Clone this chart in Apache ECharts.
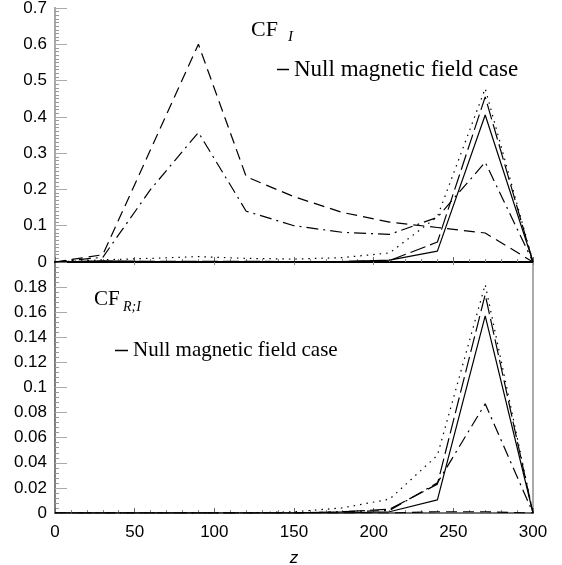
<!DOCTYPE html>
<html>
<head>
<meta charset="utf-8">
<script src="https://cdn.jsdelivr.net/npm/echarts@6/dist/echarts.min.js"></script>
<style>html,body{margin:0;padding:0;background:#fff}#c{width:562px;height:565px}</style>
</head>
<body>
<div id="c"></div>
<script>
// ---- data ----
var zValues = [0, 30, 60, 90, 120, 150, 180, 210, 240, 270, 300];

// upper panel: CF_I
var cfSolid    = [0, 0.003, 0.001, 0.001, 0.001, 0, 0.001, 0.005, 0.03, 0.405, 0];
var cfDashed   = [0, 0.02, 0.31, 0.60, 0.235, 0.18, 0.137, 0.11, 0.095, 0.08, 0];
var cfDashDot  = [0, 0.013, 0.2, 0.357, 0.14, 0.10, 0.082, 0.076, 0.123, 0.275, 0];
var cfDotted   = [0, 0.006, 0.01, 0.015, 0.01, 0.008, 0.012, 0.025, 0.125, 0.478, 0];
var cfLongDash = [0, 0.002, 0.002, 0.002, 0.002, 0.001, 0.001, 0.004, 0.055, 0.455, 0];

// lower panel: CF_R;I
var crSolid    = [0, 0, 0, 0, 0, 0, 0, 0.001, 0.0105, 0.157, 0];
var crDashed   = [0, 0, 0, 0, 0, 0, 0, 0, 0.001, 0.001, 0];
var crDashDot  = [0, 0, 0, 0, 0, 0, 0.001, 0.002, 0.024, 0.087, 0];
var crDotted   = [0, 0, 0, 0, 0, 0.001, 0.004, 0.011, 0.046, 0.182, 0];
var crLongDash = [0, 0, 0, 0, 0, 0, 0.001, 0.003, 0.023, 0.174, 0];

var legendName = 'Null magnetic field case';

function pairs(ys) { return zValues.map(function (z, i) { return [z, ys[i]]; }); }

var styles = {
  solid: 'solid',
  dashed: [11, 6],
  dashDot: [12, 5, 2, 5],
  dotted: [1.5, 5],
  longDash: [16, 5]
};

function line(name, data, dash, xi, yi) {
  return {
    name: name, type: 'line', xAxisIndex: xi, yAxisIndex: yi,
    data: pairs(data), symbol: 'none', silent: true, animation: false,
    lineStyle: { color: '#000', width: 1.2, type: dash },
    itemStyle: { color: '#000' }, z: 3
  };
}

var serif = 'Liberation Serif, Times New Roman, serif';
var sans = 'Liberation Sans, Arial, sans-serif';

function yFmt(v) { return String(+v.toFixed(3)); }

var chart = echarts.init(document.getElementById('c'), null, { renderer: 'canvas' });
var option = {
  backgroundColor: '#fff',
  animation: false,
  grid: [
    { left: 55, right: 29, top: 8, height: 254, outerBoundsMode: 'none', containLabel: false },
    { left: 55, right: 29, top: 262, height: 251, outerBoundsMode: 'none', containLabel: false }
  ],
  xAxis: [
    { gridIndex: 0, type: 'value', min: 0, max: 300, interval: 50, position: 'bottom',
      axisLine: { lineStyle: { color: '#000', width: 2 } },
      axisTick: { inside: true, length: 5, lineStyle: { color: '#666' } },
      minorTick: { show: true, splitNumber: 5, length: 3, lineStyle: { color: '#888' } },
      axisLabel: { show: false }, splitLine: { show: false } },
    { gridIndex: 0, type: 'value', min: 0, max: 300, interval: 50, position: 'top',
      axisLine: { lineStyle: { color: '#000', width: 1 } },
      axisTick: { inside: true, length: 3, lineStyle: { color: '#888' } },
      axisLabel: { show: false }, splitLine: { show: false } },
    { gridIndex: 1, type: 'value', min: 0, max: 300, interval: 50, position: 'bottom',
      axisLine: { lineStyle: { color: '#444', width: 1.5 } },
      axisTick: { inside: true, length: 5, lineStyle: { color: '#666' } },
      minorTick: { show: true, splitNumber: 5, length: 3, lineStyle: { color: '#888' } },
      axisLabel: { color: '#000', fontFamily: sans, fontSize: 17, margin: 11 },
      name: 'z', nameLocation: 'middle', nameGap: 37,
      nameTextStyle: { color: '#000', fontFamily: sans, fontStyle: 'italic', fontSize: 17 },
      splitLine: { show: false } }
  ],
  yAxis: [
    { gridIndex: 0, type: 'value', min: 0, max: 0.7, interval: 0.1, position: 'left',
      axisLine: { show: true, lineStyle: { color: '#555', width: 1.5 } },
      axisTick: { show: true, inside: true, length: 12, lineStyle: { color: '#aaa' } },
      minorTick: { show: true, splitNumber: 10, length: 4, lineStyle: { color: '#999' } },
      axisLabel: { color: '#000', fontFamily: sans, fontSize: 17, margin: 8, formatter: yFmt },
      splitLine: { show: false } },
    { gridIndex: 0, type: 'value', min: 0, max: 0.7, interval: 0.1, position: 'right',
      axisLine: { show: true, lineStyle: { color: '#aaa', width: 2 } },
      axisTick: { show: false }, axisLabel: { show: false }, splitLine: { show: false } },
    { gridIndex: 1, type: 'value', min: 0, max: 0.2, interval: 0.02, position: 'left',
      axisLine: { show: true, lineStyle: { color: '#555', width: 1.5 } },
      axisTick: { show: true, inside: true, length: 12, lineStyle: { color: '#aaa' } },
      minorTick: { show: true, splitNumber: 5, length: 4, lineStyle: { color: '#999' } },
      axisLabel: { color: '#000', fontFamily: sans, fontSize: 17, margin: 8,
        formatter: function (v) { return v >= 0.199 ? '' : yFmt(v); } },
      splitLine: { show: false } },
    { gridIndex: 1, type: 'value', min: 0, max: 0.2, interval: 0.02, position: 'right',
      axisLine: { show: true, lineStyle: { color: '#aaa', width: 2 } },
      axisTick: { show: false }, axisLabel: { show: false }, splitLine: { show: false } }
  ],
  legend: [
    { data: [legendName], left: 272, top: 53, icon: 'rect', itemWidth: 12, itemHeight: 1.5,
      selectedMode: false, textStyle: { fontFamily: serif, fontSize: 23, color: '#000' } },
    { data: [legendName], left: 110, top: 335, icon: 'rect', itemWidth: 13, itemHeight: 1.5,
      selectedMode: false, textStyle: { fontFamily: serif, fontSize: 21, color: '#000' } }
  ],
  graphic: [
    { type: 'text', left: 251, top: 19, style: { text: 'CF', font: '22px ' + serif, fill: '#000' } },
    { type: 'text', left: 288, top: 30, style: { text: 'I', font: 'italic 15px ' + serif, fill: '#000' } },
    { type: 'text', left: 94, top: 289, style: { text: 'CF', font: '21px ' + serif, fill: '#000' } },
    { type: 'text', left: 123, top: 300, style: { text: 'R;I', font: 'italic 14px ' + serif, fill: '#000' } }
  ],
  series: [
    line(legendName, cfSolid, styles.solid, 0, 0),
    line('dashed', cfDashed, styles.dashed, 0, 0),
    line('dashdot', cfDashDot, styles.dashDot, 0, 0),
    line('dotted', cfDotted, styles.dotted, 0, 0),
    line('longdash', cfLongDash, styles.longDash, 0, 0),
    line(legendName, crSolid, styles.solid, 2, 2),
    line('dashed2', crDashed, styles.dashed, 2, 2),
    line('dashdot2', crDashDot, styles.dashDot, 2, 2),
    line('dotted2', crDotted, styles.dotted, 2, 2),
    line('longdash2', crLongDash, styles.longDash, 2, 2)
  ]
};
chart.setOption(option);
</script>
</body>
</html>
